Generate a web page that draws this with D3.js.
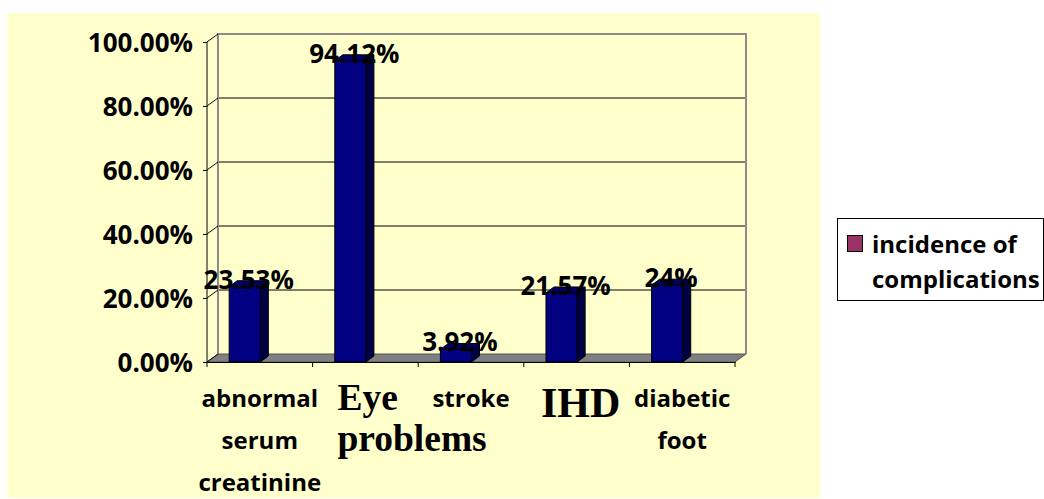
<!DOCTYPE html>
<html>
<head>
<meta charset="utf-8">
<script src="https://cdn.jsdelivr.net/npm/d3@7"></script>
<style>
  html, body { margin: 0; padding: 0; background: #fff; }
  svg { display: block; }
</style>
</head>
<body>
<script>
// chart data
const categories = ["abnormal serum creatinine", "Eye problems", "stroke", "IHD", "diabetic foot"];
const values = [0.2353, 0.9412, 0.0392, 0.2157, 0.24];
const valueLabels = ["23.53%", "94.12%", "3.92%", "21.57%", "24%"];
const yTicks = [0, 0.2, 0.4, 0.6, 0.8, 1.0];
const seriesName = ["incidence of", "complications"];

const width = 1044, height = 499;
const depthX = 11, depthY = -8;      // wall / floor depth
const barDX = 8, barDY = -6;         // bar depth
const sansFont = "'Open Sans', 'DejaVu Sans', sans-serif";
const serifFont = "'Liberation Serif', 'DejaVu Serif', serif";

const svg = d3.select("body").append("svg")
    .attr("width", width)
    .attr("height", height)
    .attr("viewBox", [0, 0, width, height]);

// chart area background
svg.append("rect")
    .attr("x", 7).attr("y", 13)
    .attr("width", 813).attr("height", 485)
    .attr("fill", "#ffffcc");

const x = d3.scaleBand()
    .domain(categories)
    .range([207, 735]);

const y = d3.scaleLinear()
    .domain([0, 1])
    .range([362, 42]);

const x0 = x.range()[0], x1 = x.range()[1];

// back wall gridlines
svg.append("g")
  .selectAll("line")
  .data(yTicks.slice(1))
  .join("line")
    .attr("x1", x0 + depthX)
    .attr("x2", x1 + depthX)
    .attr("y1", d => y(d) + depthY)
    .attr("y2", d => y(d) + depthY)
    .attr("stroke", "#000")
    .attr("stroke-width", 1);

// back wall frame
svg.append("path")
    .attr("d", `M${x0 + depthX},${y(0) + depthY}V${y(1) + depthY}H${x1 + depthX}V${y(0) + depthY}`)
    .attr("fill", "none")
    .attr("stroke", "#8c8c8c")
    .attr("stroke-width", 2);

// floor
svg.append("path")
    .attr("d", `M${x0},${y(0)}L${x0 + depthX},${y(0) + depthY}H${x1 + depthX}L${x1},${y(0)}Z`)
    .attr("fill", "#808080")
    .attr("stroke", "#555")
    .attr("stroke-width", 1);

// side wall diagonals
svg.append("g")
  .selectAll("line")
  .data(yTicks)
  .join("line")
    .attr("x1", x0)
    .attr("x2", x0 + depthX)
    .attr("y1", d => y(d))
    .attr("y2", d => y(d) + depthY)
    .attr("stroke", "#000");

// bars
const bw = x.bandwidth();
const bars = svg.append("g")
  .selectAll("g")
  .data(categories.map((c, i) => ({c, v: values[i], label: valueLabels[i]})))
  .join("g");

const bx = d => x(d.c) + bw * 0.21;
const bwid = bw * 0.295;

bars.append("path") // side
    .attr("d", d => `M${bx(d) + bwid},${y(d.v)}l${barDX},${barDY}V${y(0) + barDY}l${-barDX},${-barDY}Z`)
    .attr("fill", "#000044")
    .attr("stroke", "#000")
    .attr("stroke-width", 1);

bars.append("path") // top
    .attr("d", d => `M${bx(d)},${y(d.v)}l${barDX},${barDY}h${bwid}l${-barDX},${-barDY}Z`)
    .attr("fill", "#000066")
    .attr("stroke", "#000")
    .attr("stroke-width", 1);

bars.append("rect") // front
    .attr("x", bx)
    .attr("y", d => y(d.v))
    .attr("width", bwid)
    .attr("height", d => y(0) - y(d.v))
    .attr("fill", "#000080")
    .attr("stroke", "#000")
    .attr("stroke-width", 1);

bars.append("text")
    .attr("x", d => bx(d) + (bwid + barDX) / 2)
    .attr("y", d => y(d.v) + 2)
    .attr("text-anchor", "middle")
    .attr("font-family", sansFont)
    .attr("font-weight", "bold")
    .attr("font-size", 26)
    .attr("fill", "#000")
    .text(d => d.label);

// y axis
const yAxis = d3.axisLeft(y)
    .tickValues(yTicks)
    .tickFormat(d3.format(".2%"))
    .tickSize(4)
    .tickPadding(10);

svg.append("g")
    .attr("transform", `translate(${x0},0)`)
    .call(yAxis)
    .call(g => g.select(".domain").attr("d", `M0,${y(0)}V${y(1)}`).attr("stroke", "#000"))
    .call(g => g.selectAll(".tick line").attr("stroke", "#000"))
    .call(g => g.selectAll(".tick text")
        .attr("font-family", sansFont)
        .attr("font-weight", "bold")
        .attr("font-size", 26)
        .attr("fill", "#000")
        .attr("dy", "0.38em"));

// x axis
const xAxis = d3.axisBottom(x)
    .tickValues([])
    .tickSizeOuter(0);

svg.append("g")
    .attr("transform", `translate(0,${y(0)})`)
    .call(xAxis)
    .call(g => g.select(".domain").attr("stroke", "#000"))
    .call(g => g.selectAll(".xt")
        .data(categories.concat(["end"]))
        .join("line")
        .attr("x1", (d, i) => i < categories.length ? x(d) : x1)
        .attr("x2", (d, i) => i < categories.length ? x(d) : x1)
        .attr("y1", 0).attr("y2", 5)
        .attr("stroke", "#000"));

// category labels
const catLines = {
  "abnormal serum creatinine": {lines: ["abnormal", "serum", "creatinine"], serif: false},
  "Eye problems": {lines: ["Eye", "problems"], serif: true},
  "stroke": {lines: ["stroke"], serif: false},
  "IHD": {lines: ["IHD"], serif: true, big: true},
  "diabetic foot": {lines: ["diabetic", "foot"], serif: false}
};

categories.forEach(c => {
  const info = catLines[c];
  const cx = x(c) + bw / 2;
  const t = svg.append("text")
      .attr("font-weight", "bold")
      .attr("fill", "#000");
  if (!info.serif) {
    t.attr("font-family", sansFont)
     .attr("font-size", 24)
     .attr("text-anchor", "middle");
    info.lines.forEach((l, i) => {
      t.append("tspan").attr("x", cx).attr("y", 407 + i * 42).text(l);
    });
  } else if (info.big) {
    t.attr("font-family", serifFont)
     .attr("font-size", 42)
     .attr("text-anchor", "middle")
     .attr("x", cx + 4).attr("y", 417)
     .text(info.lines[0]);
  } else {
    t.attr("font-family", serifFont)
     .attr("font-size", 37.5)
     .attr("text-anchor", "start");
    info.lines.forEach((l, i) => {
      t.append("tspan").attr("x", cx - 28).attr("y", 410 + i * 41).text(l);
    });
  }
});

// legend
const legend = svg.append("g");
legend.append("rect")
    .attr("x", 837.5).attr("y", 218.5)
    .attr("width", 206).attr("height", 82)
    .attr("fill", "#fff")
    .attr("stroke", "#000");
legend.append("rect")
    .attr("x", 847.5).attr("y", 235.5)
    .attr("width", 15).attr("height", 16)
    .attr("fill", "#993366")
    .attr("stroke", "#000");
legend.append("text")
    .attr("font-family", sansFont)
    .attr("font-weight", "bold")
    .attr("font-size", 24)
    .attr("fill", "#000")
  .selectAll("tspan")
  .data(seriesName)
  .join("tspan")
    .attr("x", 872)
    .attr("y", (d, i) => 253 + i * 35)
    .text(d => d);
</script>
</body>
</html>
